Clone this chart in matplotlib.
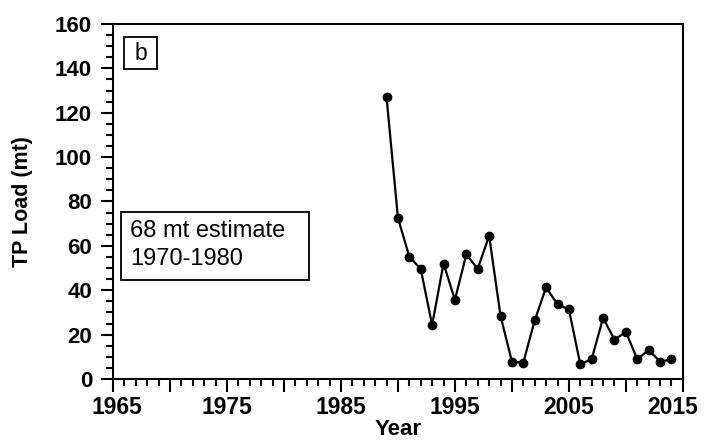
import matplotlib
matplotlib.use("Agg")
import matplotlib.pyplot as plt
from matplotlib.ticker import MultipleLocator, FixedLocator, FuncFormatter
from matplotlib.patches import Rectangle
from matplotlib.transforms import ScaledTranslation

years = list(range(1989, 2015))
tp_load = [127, 72.6, 55.1, 49.6, 24.3, 52.0, 35.7, 56.2, 49.6, 64.6,
           28.5, 7.8, 7.4, 26.4, 41.3, 33.6, 31.4, 6.6, 9.0, 27.5,
           17.7, 21.2, 8.9, 13.1, 7.8, 8.9]
x_major = list(range(1965, 2016, 5))
panel_label = "b"
note_lines = ["68 mt estimate", "1970-1980"]

plt.rcParams['font.family'] = ['Liberation Sans', 'DejaVu Sans']

fig = plt.figure(figsize=(7.04, 4.43), dpi=100)
ax = fig.add_axes([0.1605, 0.1445, 0.8095, 0.8013])

ax.plot(years, tp_load, color='black', lw=1.6, marker='o', ms=6,
        markerfacecolor='black', markeredgecolor='black')

ax.set_xlim(1965, 2015)
ax.set_ylim(0, 160)
ax.xaxis.set_major_locator(FixedLocator(x_major))
ax.xaxis.set_minor_locator(MultipleLocator(1))
ax.yaxis.set_major_locator(MultipleLocator(20))
ax.yaxis.set_minor_locator(MultipleLocator(5))
ax.xaxis.set_major_formatter(FuncFormatter(
    lambda v, p: f"{int(round(v))}" if int(round(v)) % 10 == 5 else ""))

for s in ax.spines.values():
    s.set_linewidth(1.5)
ax.tick_params(which='major', direction='out', length=9, width=1.5)
ax.tick_params(axis='x', which='major', pad=3, labelsize=16.5)
ax.tick_params(axis='y', which='major', pad=6, labelsize=16)
ax.tick_params(which='minor', direction='out', length=5, width=1.5)
for lab in ax.get_xticklabels() + ax.get_yticklabels():
    lab.set_fontweight('bold')

# keep edge year labels inside the figure like the reference
xt = ax.xaxis.get_major_ticks()
xt[0].label1.set_transform(xt[0].label1.get_transform() +
                           ScaledTranslation(4 / 100, 0, fig.dpi_scale_trans))
xt[-1].label1.set_transform(xt[-1].label1.get_transform() +
                            ScaledTranslation(-10 / 100, 0, fig.dpi_scale_trans))

ax.set_xlabel("Year", fontsize=16, fontweight='bold', labelpad=0.5)
ax.set_ylabel("TP Load (mt)", fontsize=15.5, fontweight='bold', labelpad=16)

# panel label box
ax.add_patch(Rectangle((0.0193, 0.8732), 0.0579, 0.0901, transform=ax.transAxes,
                       fill=False, ec='black', lw=1.3))
ax.text(0.0482, 0.8986, panel_label, transform=ax.transAxes, fontsize=16.5,
        ha='center', va='baseline')

# note box
ax.add_patch(Rectangle((0.0135, 0.2789), 0.3309, 0.1915, transform=ax.transAxes,
                       fill=False, ec='black', lw=1.3))
ax.text(0.0298, 0.400, note_lines[0], transform=ax.transAxes, fontsize=17,
        ha='left', va='baseline')
ax.text(0.0298, 0.321, note_lines[1], transform=ax.transAxes, fontsize=17,
        ha='left', va='baseline')

fig.savefig("out.png", dpi=100)
